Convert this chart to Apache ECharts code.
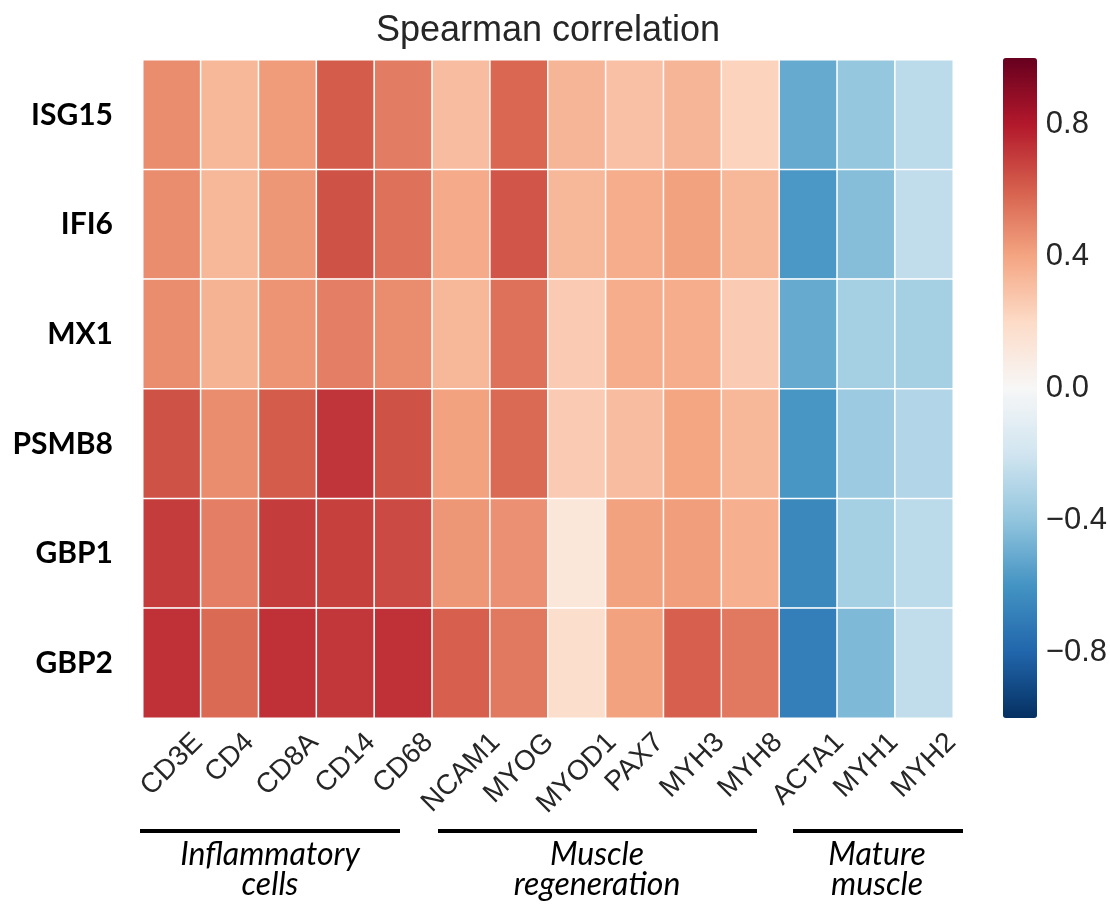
<!DOCTYPE html>
<html>
<head>
<meta charset="utf-8">
<title>Spearman correlation</title>
<script src="https://cdn.jsdelivr.net/npm/echarts@6/dist/echarts.min.js"></script>
<style>
  html, body { margin: 0; padding: 0; background: #ffffff; }
  #chart { width: 1110px; height: 905px; }
</style>
</head>
<body>
<div id="chart"></div>
<script>
// Interferon-signature genes (rows) against cell-type marker genes (columns)
const rowLabels = ['ISG15', 'IFI6', 'MX1', 'PSMB8', 'GBP1', 'GBP2'];
const colLabels = ['CD3E', 'CD4', 'CD8A', 'CD14', 'CD68', 'NCAM1', 'MYOG',
                   'MYOD1', 'PAX7', 'MYH3', 'MYH8', 'ACTA1', 'MYH1', 'MYH2'];

// Spearman rho per row, in column order
const rhoISG15 = [0.47, 0.33, 0.43, 0.61, 0.52, 0.31, 0.58, 0.34, 0.30, 0.34, 0.23, -0.51, -0.39, -0.27];
const rhoIFI6  = [0.47, 0.33, 0.44, 0.64, 0.55, 0.38, 0.63, 0.33, 0.37, 0.41, 0.33, -0.58, -0.43, -0.25];
const rhoMX1   = [0.47, 0.35, 0.45, 0.51, 0.47, 0.33, 0.55, 0.26, 0.37, 0.37, 0.26, -0.51, -0.34, -0.34];
const rhoPSMB8 = [0.64, 0.47, 0.61, 0.72, 0.64, 0.41, 0.57, 0.26, 0.31, 0.40, 0.33, -0.59, -0.37, -0.30];
const rhoGBP1  = [0.70, 0.51, 0.70, 0.69, 0.66, 0.44, 0.46, 0.12, 0.41, 0.42, 0.36, -0.65, -0.34, -0.27];
const rhoGBP2  = [0.73, 0.57, 0.73, 0.71, 0.73, 0.60, 0.53, 0.18, 0.41, 0.60, 0.53, -0.69, -0.45, -0.25];

// Colour bar tick values and marker-gene group captions
const colorbarTicks = [-0.8, -0.4, 0.0, 0.4, 0.8];
const groupCaptions = ['Inflammatory\ncells', 'Muscle\nregeneration', 'Mature\nmuscle'];

// Diverging red/blue palette, evenly spaced from -1 to 1
const rdBu = ['#053061', '#2166ac', '#4393c3', '#92c5de', '#d1e5f0', '#f7f7f7',
              '#fddbc7', '#f4a582', '#d6604d', '#b2182b', '#67001f'];

const rows = [rhoISG15, rhoIFI6, rhoMX1, rhoPSMB8, rhoGBP1, rhoGBP2];
const cells = [];
rows.forEach((vals, r) => vals.forEach((v, c) => cells.push([c, r, v])));

const tickFont = '"Liberation Sans", Arial, sans-serif';
const tickSize = 28;
const captionFont = 'italic 32px Lato, "Noto Sans", sans-serif';

const chart = echarts.init(document.getElementById('chart'), null, { renderer: 'canvas' });

const groupGraphics = [
  // group brackets under the column labels
  { type: 'line', shape: { x1: 140, y1: 831, x2: 400, y2: 831 }, style: { stroke: '#000', lineWidth: 4 } },
  { type: 'line', shape: { x1: 438, y1: 831, x2: 757, y2: 831 }, style: { stroke: '#000', lineWidth: 4 } },
  { type: 'line', shape: { x1: 793, y1: 831, x2: 963, y2: 831 }, style: { stroke: '#000', lineWidth: 4 } },
  { type: 'text', x: 270, y: 840, style: { text: groupCaptions[0], fill: '#000', align: 'center', verticalAlign: 'top',
      font: captionFont, lineHeight: 30 } },
  { type: 'text', x: 597, y: 840, style: { text: groupCaptions[1], fill: '#000', align: 'center', verticalAlign: 'top',
      font: captionFont, lineHeight: 30 } },
  { type: 'text', x: 877, y: 840, style: { text: groupCaptions[2], fill: '#000', align: 'center', verticalAlign: 'top',
      font: captionFont, lineHeight: 30 } }
];

const option = {
  backgroundColor: '#ffffff',
  animation: false,
  title: {
    text: 'Spearman correlation',
    left: 543,
    textAlign: 'center',
    top: 8,
    textStyle: { fontFamily: tickFont, fontSize: 36, fontWeight: 'normal', color: '#262626' }
  },
  grid: [
    { left: 143, right: 157, top: 60, bottom: 187 },
    { left: 1003, top: 58, width: 34, height: 660 }
  ],
  xAxis: [
    {
      type: 'category',
      gridIndex: 0,
      data: colLabels,
      position: 'bottom',
      axisLine: { show: false },
      axisTick: { show: false },
      splitLine: { show: false },
      // column names are drawn below as diagonal text centred on each column
      axisLabel: { show: false }
    },
    { type: 'value', gridIndex: 1, show: false, min: 0, max: 1 }
  ],
  yAxis: [
    {
      type: 'category',
      gridIndex: 0,
      data: rowLabels,
      inverse: true,
      axisLine: { show: false },
      axisTick: { show: false },
      splitLine: { show: false },
      axisLabel: {
        margin: 30,
        fontFamily: 'Lato, "Noto Sans", sans-serif',
        fontWeight: 'bold',
        fontSize: 30,
        color: '#000000'
      }
    },
    {
      type: 'value',
      gridIndex: 1,
      min: -1,
      max: 1,
      position: 'right',
      axisLine: { show: false },
      axisTick: { show: false },
      splitLine: { show: false },
      axisLabel: {
        customValues: colorbarTicks,
        margin: 11,
        fontFamily: tickFont,
        fontSize: 31,
        color: '#262626',
        formatter: v => (v < 0 ? '\u2212' : '') + Math.abs(v).toFixed(1)
      }
    }
  ],
  visualMap: {
    type: 'continuous',
    seriesIndex: 0,
    min: -1,
    max: 1,
    calculable: false,
    hoverLink: false,
    orient: 'vertical',
    left: 1003,
    top: 58,
    padding: 0,
    itemWidth: 34,
    itemHeight: 660,
    text: null,
    inRange: { color: rdBu }
  },
  series: [
    {
      type: 'heatmap',
      xAxisIndex: 0,
      yAxisIndex: 0,
      data: cells,
      label: { show: false },
      itemStyle: { borderColor: '#ffffff', borderWidth: 1.5 },
      emphasis: { disabled: true }
    }
  ],
  graphic: groupGraphics
};

chart.setOption(option);

// Diagonal column names: each label is centred on its column, with the tops
// of all rotated labels level just below the heatmap.
const measureCtx = document.createElement('canvas').getContext('2d');
measureCtx.font = tickSize + 'px ' + tickFont;
const plotBottom = chart.convertToPixel({ yAxisIndex: 0 }, rowLabels[rowLabels.length - 1]) +
  (chart.convertToPixel({ yAxisIndex: 0 }, rowLabels[1]) - chart.convertToPixel({ yAxisIndex: 0 }, rowLabels[0])) / 2;
const labelPad = 13;
const colLabelGraphics = colLabels.map(name => {
  const w = measureCtx.measureText(name).width;
  const extent = (w + 0.72 * tickSize) / Math.SQRT2;
  return {
    type: 'text',
    x: chart.convertToPixel({ xAxisIndex: 0 }, name),
    y: plotBottom + labelPad + extent / 2,
    rotation: Math.PI / 4,
    style: {
      text: name,
      fill: '#262626',
      font: tickSize + 'px ' + tickFont,
      align: 'center',
      verticalAlign: 'middle'
    }
  };
});

chart.setOption({ graphic: groupGraphics.concat(colLabelGraphics) });
</script>
</body>
</html>
